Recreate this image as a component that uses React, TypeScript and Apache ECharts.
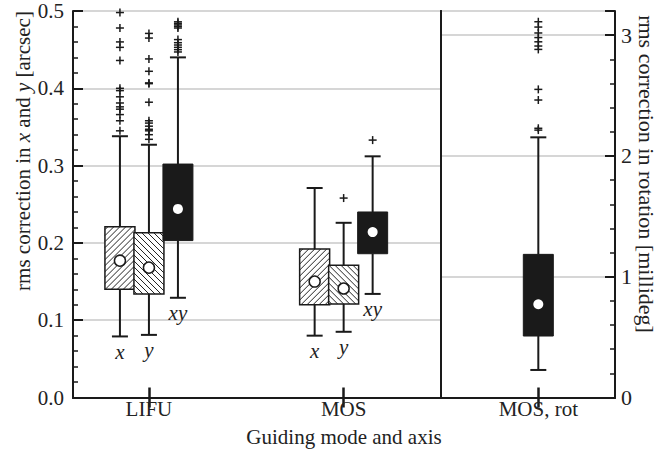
import React, { useEffect, useRef } from 'react';
import * as echarts from 'echarts';

// ---------- data ----------
const groups = ['LIFU', 'MOS'];
const rotGroup = ['MOS, rot'];
const tags = ['x', 'y', 'xy'];

// box stats: [lower whisker, Q1, median, Q3, upper whisker]
const lifuX = [0.079, 0.140, 0.177, 0.221, 0.338];
const lifuY = [0.081, 0.134, 0.168, 0.213, 0.327];
const lifuXY = [0.129, 0.203, 0.244, 0.302, 0.440];
const mosX = [0.080, 0.120, 0.150, 0.192, 0.271];
const mosY = [0.085, 0.121, 0.141, 0.171, 0.226];
const mosXY = [0.134, 0.186, 0.214, 0.240, 0.312];
const mosRot = [0.228, 0.509, 0.772, 1.185, 2.154]; // millideg

// outliers
const lifuXOut = [0.498, 0.478, 0.460, 0.453, 0.436, 0.400, 0.397, 0.389, 0.381, 0.376, 0.373, 0.366, 0.358, 0.345];
const lifuYOut = [0.471, 0.465, 0.438, 0.422, 0.407, 0.406, 0.382, 0.358, 0.355, 0.351, 0.347, 0.345, 0.340, 0.334];
const lifuXYOut = [0.486, 0.484, 0.482, 0.480, 0.478, 0.463, 0.459, 0.456, 0.453, 0.450, 0.447];
const mosXOut: number[] = [];
const mosYOut = [0.258];
const mosXYOut = [0.333];
const mosRotOut = [3.111, 3.067, 3.018, 2.980, 2.945, 2.910, 2.882, 2.551, 2.463, 2.229, 2.214];

// ---------- style constants ----------
const FONT = '"Liberation Serif", "Times New Roman", serif';
const INK = '#1a1a1a';
const GRID_GRAY = '#c8c8c8';
const SLOT = 29;
const HALF = 15;
const CAP = 8;
const HATCH = 6;
const FS = 21;

// kind: 0 = "/" hatch, 1 = "\" hatch, 2 = solid
const leftBoxes = [
  { pos: 1, slot: -1, stats: lifuX, kind: 0, tag: 0, out: lifuXOut },
  { pos: 1, slot: 0, stats: lifuY, kind: 1, tag: 1, out: lifuYOut },
  { pos: 1, slot: 1, stats: lifuXY, kind: 2, tag: 2, out: lifuXYOut },
  { pos: 2, slot: -1, stats: mosX, kind: 0, tag: 0, out: mosXOut },
  { pos: 2, slot: 0, stats: mosY, kind: 1, tag: 1, out: mosYOut },
  { pos: 2, slot: 1, stats: mosXY, kind: 2, tag: 2, out: mosXYOut },
];
const rightBoxes = [{ pos: 3, slot: 0, stats: mosRot, kind: 2, tag: -1, out: mosRotOut }];

const boxRows = (list: any[]) => list.map((b) => [b.pos, b.slot, ...b.stats, b.kind, b.tag]);
const outRows = (list: any[]) => {
  const rows: number[][] = [];
  list.forEach((b) => b.out.forEach((v: number) => rows.push([b.pos, b.slot, v])));
  return rows;
};

function renderBox(params: any, api: any) {
  const pos = api.value(0);
  const slot = api.value(1);
  const lw = api.value(2), q1 = api.value(3), med = api.value(4), q3 = api.value(5), uw = api.value(6);
  const kind = api.value(7);
  const tag = api.value(8);
  const py = (v: number) => api.coord([pos, v])[1];
  const cx = api.coord([pos, med])[0] + slot * SLOT;
  const yLw = py(lw), yQ1 = py(q1), yMed = py(med), yQ3 = py(q3), yUw = py(uw);
  const line = { stroke: INK, lineWidth: 2 };
  const children: any[] = [
    { type: 'line', shape: { x1: cx, y1: yQ1, x2: cx, y2: yLw }, style: line },
    { type: 'line', shape: { x1: cx - CAP, y1: yLw, x2: cx + CAP, y2: yLw }, style: line },
    { type: 'line', shape: { x1: cx, y1: yQ3, x2: cx, y2: yUw }, style: line },
    { type: 'line', shape: { x1: cx - CAP, y1: yUw, x2: cx + CAP, y2: yUw }, style: line },
  ];
  const x0 = cx - HALF, x1 = cx + HALF, y0 = yQ3, y1 = yQ1;
  if (kind === 2) {
    children.push({ type: 'rect', shape: { x: x0, y: y0, width: x1 - x0, height: y1 - y0 }, style: { fill: INK, stroke: INK, lineWidth: 1 } });
    children.push({ type: 'circle', shape: { cx, cy: yMed, r: 5 }, style: { fill: '#fff' } });
  } else {
    children.push({ type: 'rect', shape: { x: x0, y: y0, width: x1 - x0, height: y1 - y0 }, style: { fill: '#fff' } });
    const hs = { stroke: '#222', lineWidth: 1 };
    if (kind === 0) {
      for (let c = x0 + y0 + HATCH / 2; c < x1 + y1; c += HATCH) {
        const xa = Math.max(x0, c - y1), xb = Math.min(x1, c - y0);
        if (xa < xb) children.push({ type: 'line', shape: { x1: xa, y1: c - xa, x2: xb, y2: c - xb }, style: hs });
      }
    } else {
      for (let c = x0 - y1 + HATCH / 2; c < x1 - y0; c += HATCH) {
        const xa = Math.max(x0, c + y0), xb = Math.min(x1, c + y1);
        if (xa < xb) children.push({ type: 'line', shape: { x1: xa, y1: xa - c, x2: xb, y2: xb - c }, style: hs });
      }
    }
    children.push({ type: 'rect', shape: { x: x0, y: y0, width: x1 - x0, height: y1 - y0 }, style: { fill: 'none', stroke: INK, lineWidth: 1.5 } });
    children.push({ type: 'circle', shape: { cx, cy: yMed, r: 5.5 }, style: { fill: '#fff', stroke: INK, lineWidth: 1.5 } });
  }
  if (tag >= 0) {
    children.push({
      type: 'text', x: cx, y: yLw + 5,
      style: { text: tags[tag], fill: '#222', fontFamily: FONT, fontSize: 21, fontStyle: 'italic', align: 'center', verticalAlign: 'top' },
    });
  }
  return { type: 'group', children };
}

function renderPlus(params: any, api: any) {
  const c = api.coord([api.value(0), api.value(2)]);
  const cx = c[0] + api.value(1) * SLOT;
  const s = { stroke: INK, lineWidth: 1.5 };
  return {
    type: 'group',
    children: [
      { type: 'line', shape: { x1: cx - 4, y1: c[1], x2: cx + 4, y2: c[1] }, style: s },
      { type: 'line', shape: { x1: cx, y1: c[1] - 4, x2: cx, y2: c[1] + 4 }, style: s },
    ],
  };
}

const axisLine = { show: true, lineStyle: { color: INK, width: 2 } };
const labelStyle = { fontFamily: FONT, fontSize: FS, color: '#222' };

export default function App() {
  const ref = useRef<HTMLDivElement>(null);
  useEffect(() => {
    if (!ref.current) return;
    const chart = echarts.init(ref.current, null, { renderer: 'svg' });
    const option: any = {
      animation: false,
      backgroundColor: '#fff',
      textStyle: { fontFamily: FONT },
      grid: [
        { left: 73, top: 11, width: 368, height: 386.5 },
        { left: 441, top: 11, width: 174, height: 386.5 },
      ],
      xAxis: [
        {
          gridIndex: 0, type: 'value', position: 'bottom', min: 0.61, max: 2.5,
          axisLine, splitLine: { show: false },
          axisTick: { show: true, customValues: [1, 2], inside: true, length: 10, lineStyle: { color: INK, width: 2.5 } },
          axisLabel: { ...labelStyle, customValues: [1, 2], margin: 1, formatter: (v: number) => groups[Math.round(v) - 1] ?? '' },
        },
        {
          gridIndex: 0, type: 'value', position: 'top', min: 0.61, max: 2.5,
          axisLine, splitLine: { show: false }, axisLabel: { show: false },
          axisTick: { show: true, customValues: [1, 2], inside: true, length: 10, lineStyle: { color: INK, width: 2.5 } },
        },
        {
          gridIndex: 1, type: 'value', position: 'bottom', min: 2.5, max: 3.394,
          axisLine, splitLine: { show: false },
          axisTick: { show: true, customValues: [3], inside: true, length: 10, lineStyle: { color: INK, width: 2.5 } },
          axisLabel: { ...labelStyle, customValues: [3], margin: 1, formatter: () => rotGroup[0] },
        },
        {
          gridIndex: 1, type: 'value', position: 'top', min: 2.5, max: 3.394,
          axisLine, splitLine: { show: false }, axisLabel: { show: false },
          axisTick: { show: true, customValues: [3], inside: true, length: 10, lineStyle: { color: INK, width: 2.5 } },
        },
      ],
      yAxis: [
        {
          gridIndex: 0, type: 'value', position: 'left', min: 0, max: 0.5, interval: 0.1,
          axisLine,
          axisTick: { show: true, inside: true, length: 10, lineStyle: { color: INK, width: 2 } },
          minorTick: { show: true, splitNumber: 5, length: 5, lineStyle: { color: INK, width: 1.5 } },
          splitLine: { show: true, lineStyle: { color: GRID_GRAY, width: 1.5 } },
          axisLabel: { ...labelStyle, margin: 9, formatter: (v: number) => v.toFixed(1) },
        },
        {
          gridIndex: 0, type: 'value', position: 'right', min: 0, max: 0.5,
          axisLine, axisTick: { show: false }, axisLabel: { show: false }, splitLine: { show: false },
        },
        {
          gridIndex: 1, type: 'value', position: 'left', min: 0, max: 3.2,
          axisLine, axisTick: { show: false }, axisLabel: { show: false }, splitLine: { show: false },
        },
        {
          gridIndex: 1, type: 'value', position: 'right', min: 0, max: 3.2, interval: 1,
          axisLine,
          axisTick: { show: true, inside: true, length: 10, lineStyle: { color: INK, width: 2 } },
          splitLine: { show: true, lineStyle: { color: GRID_GRAY, width: 1.5 } },
          axisLabel: { ...labelStyle, fontSize: 22, margin: 6, formatter: (v: number) => (Math.abs(v - Math.round(v)) < 1e-6 ? String(Math.round(v)) : '') },
        },
        {
          gridIndex: 1, type: 'value', position: 'right', min: 0, max: 3.2, interval: 0.2,
          axisLine: { show: false }, axisLabel: { show: false }, splitLine: { show: false },
          axisTick: { show: true, inside: true, length: 5, lineStyle: { color: INK, width: 1.5 } },
        },
      ],
      graphic: [
        {
          type: 'text', x: 344, y: 437,
          style: { text: 'Guiding mode and axis', fontFamily: FONT, fontSize: FS, fill: '#222', align: 'center', verticalAlign: 'middle' },
        },
        {
          type: 'text', x: 23, y: 151, rotation: Math.PI / 2,
          style: {
            text: 'rms correction in {i|x} and {i|y} [arcsec]',
            fontFamily: FONT, fontSize: FS, fill: '#222', align: 'center', verticalAlign: 'middle',
            rich: { i: { fontFamily: FONT, fontSize: FS, fontStyle: 'italic', fill: '#222' } },
          },
        },
        {
          type: 'text', x: 646, y: 174, rotation: -Math.PI / 2,
          style: { text: 'rms correction in rotation [millideg]', fontFamily: FONT, fontSize: 22, fill: '#222', align: 'center', verticalAlign: 'middle' },
        },
      ],
      series: [
        { type: 'custom', xAxisIndex: 0, yAxisIndex: 0, renderItem: renderPlus, data: outRows(leftBoxes), z: 3 },
        { type: 'custom', xAxisIndex: 0, yAxisIndex: 0, renderItem: renderBox, data: boxRows(leftBoxes), z: 4 },
        { type: 'custom', xAxisIndex: 2, yAxisIndex: 3, renderItem: renderPlus, data: outRows(rightBoxes), z: 3 },
        { type: 'custom', xAxisIndex: 2, yAxisIndex: 3, renderItem: renderBox, data: boxRows(rightBoxes), z: 4 },
      ],
    };
    chart.setOption(option);
    return () => chart.dispose();
  }, []);
  return <div ref={ref} style={{ position: 'fixed', left: 0, top: 0, width: 657, height: 451, background: '#fff' }} />;
}
